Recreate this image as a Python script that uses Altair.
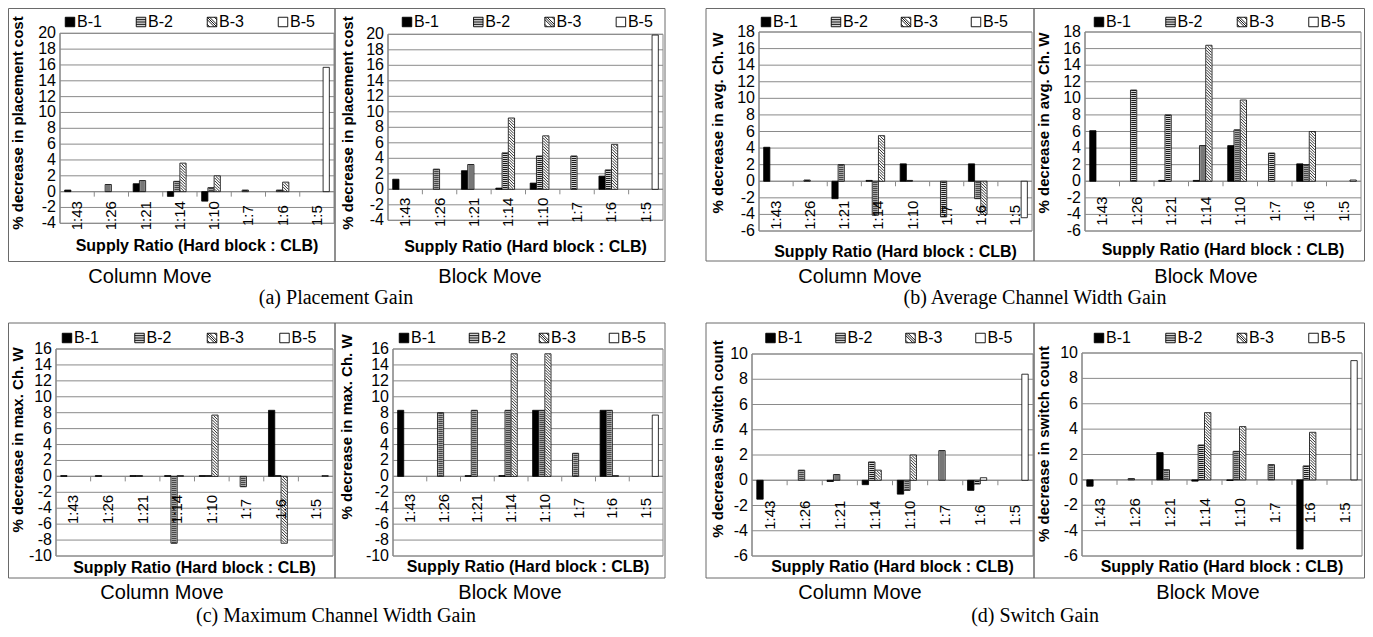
import altair as alt
import pandas as pd

categories = ["1:43", "1:26", "1:21", "1:14", "1:10", "1:7", "1:6", "1:5"]
series = ["B-1", "B-2", "B-3", "B-5"]
N = None

# (a) Placement Gain
a_col_b1 = [0.2, N, 1.0, -0.6, -1.2, N, N, N]
a_col_b2 = [N, 0.9, 1.4, 1.3, 0.5, 0.2, 0.2, N]
a_col_b3 = [N, N, N, 3.6, 2.0, N, 1.2, N]
a_col_b5 = [N, N, N, N, N, N, N, 15.7]
a_blk_b1 = [1.3, N, 2.4, 0.15, 0.8, N, 1.7, N]
a_blk_b2 = [N, 2.6, 3.2, 4.7, 4.3, 4.3, 2.5, N]
a_blk_b3 = [N, N, N, 9.2, 6.9, N, 5.8, N]
a_blk_b5 = [N, N, N, N, N, N, N, 19.9]
# (b) Average Channel Width Gain
b_col_b1 = [4.1, N, -2.1, 0.1, 2.1, N, 2.1, N]
b_col_b2 = [N, 0.15, 2.0, -4.1, 0.1, -4.3, -2.1, N]
b_col_b3 = [N, N, N, 5.5, N, N, -4.0, N]
b_col_b5 = [N, N, N, N, N, N, N, -4.4]
b_blk_b1 = [6.1, N, 0.1, 0.1, 4.3, N, 2.1, N]
b_blk_b2 = [N, 11.0, 8.0, 4.3, 6.2, 3.4, 2.0, N]
b_blk_b3 = [N, N, N, 16.4, 9.8, N, 6.0, N]
b_blk_b5 = [N, N, N, N, N, N, N, 0.15]
# (c) Maximum Channel Width Gain
c_col_b1 = [0.1, 0.1, 0.1, 0.1, 0.1, N, 8.3, N]
c_col_b2 = [N, N, 0.1, -8.4, 0.1, -1.3, 0.1, N]
c_col_b3 = [N, N, N, 0.1, 7.7, N, -8.4, N]
c_col_b5 = [N, N, N, N, N, N, N, 0.1]
c_blk_b1 = [8.3, N, 0.1, 0.1, 8.3, N, 8.3, N]
c_blk_b2 = [N, 8.0, 8.3, 8.3, 8.3, 2.9, 8.3, N]
c_blk_b3 = [N, N, N, 15.4, 15.4, N, 0.1, N]
c_blk_b5 = [N, N, N, N, N, N, N, 7.7]
# (d) Switch Gain
d_col_b1 = [-1.5, N, -0.1, -0.35, -1.1, N, -0.8, N]
d_col_b2 = [N, 0.8, 0.45, 1.45, -0.8, 2.35, -0.3, N]
d_col_b3 = [N, N, N, 0.8, 2.0, N, 0.2, N]
d_col_b5 = [N, N, N, N, N, N, N, 8.4]
d_blk_b1 = [-0.5, N, 2.15, -0.1, -0.05, N, -5.45, N]
d_blk_b2 = [N, 0.1, 0.8, 2.75, 2.25, 1.2, 1.1, N]
d_blk_b3 = [N, N, N, 5.3, 4.2, N, 3.75, N]
d_blk_b5 = [N, N, N, N, N, N, N, 9.4]

ticks_a = [-4, -2, 0, 2, 4, 6, 8, 10, 12, 14, 16, 18, 20]
ticks_b = [-6, -4, -2, 0, 2, 4, 6, 8, 10, 12, 14, 16, 18]
ticks_c = [-10, -8, -6, -4, -2, 0, 2, 4, 6, 8, 10, 12, 14, 16]
ticks_d = [-6, -4, -2, 0, 2, 4, 6, 8, 10]

ytitle_a = "% decrease in placement cost"
ytitle_b = "% decrease in avg. Ch. W"
ytitle_c = "% decrease in max. Ch. W"
ytitle_d_col = "% decrease in  Switch count"
ytitle_d_blk = "% decrease in  switch count"
xtitle = "Supply Ratio (Hard block : CLB)"
captions = ["(a) Placement Gain", "(b) Average Channel Width Gain",
            "(c) Maximum Channel Width Gain", "(d) Switch Gain"]

SANS = "Liberation Sans"
SERIF = "Liberation Serif"
GRID = "#8a8a8a"
FRAME = "#6a6a6a"
FILLS = ["black", "#d4d4d4", "white", "white"]
SQ = "M-1,-1H1V1H-1Z"
SHAPES = [SQ, SQ + " M-1,-0.5H1 M-1,0H1 M-1,0.5H1",
          SQ + " M-1,-1L1,1 M-1,-0.5L0.5,1 M-1,0.5L-0.5,1 M-0.5,-1L1,0.5 M0.5,-1L1,-0.5",
          SQ]

# layout of each panel (pixel geometry of the figure)
panels = [
    dict(vals=[a_col_b1, a_col_b2, a_col_b3, a_col_b5], ticks=ticks_a, ytitle=ytitle_a, sub="Column Move",
         frame=(0.5, 327, 0.5, 253.5), plot=(52, 326, 25.3, 215.3), gap=24, leg=(62, 71, 14),
         yt=(10, 115), xt=238, subpos=(142, 269)),
    dict(vals=[a_blk_b1, a_blk_b2, a_blk_b3, a_blk_b5], ticks=ticks_a, ytitle=ytitle_a, sub="Block Move",
         frame=(327, 657, 0.5, 253.5), plot=(380, 655, 26.3, 212.3), gap=23, leg=(399, 71.3, 14),
         yt=(339.5, 115), xt=239, subpos=(482, 269)),
    dict(vals=[b_col_b1, b_col_b2, b_col_b3, b_col_b5], ticks=ticks_b, ytitle=ytitle_b, sub="Column Move",
         frame=(698, 1026, 0.5, 253), plot=(751, 1024, 24, 223), gap=34, leg=(758, 70, 14),
         yt=(709.5, 115), xt=243.5, subpos=(852, 269)),
    dict(vals=[b_blk_b1, b_blk_b2, b_blk_b3, b_blk_b5], ticks=ticks_b, ytitle=ytitle_b, sub="Block Move",
         frame=(1026, 1356.5, 0.5, 253), plot=(1077, 1353, 24, 223), gap=30, leg=(1091, 71.5, 14),
         yt=(1036, 115), xt=242, subpos=(1198, 269)),
    dict(vals=[c_col_b1, c_col_b2, c_col_b3, c_col_b5], ticks=ticks_c, ytitle=ytitle_c, sub="Column Move",
         frame=(0.5, 327, 315, 570), plot=(48, 325, 341, 548), gap=33, leg=(59, 72.5, 330),
         yt=(9.5, 432), xt=559.5, subpos=(154, 585)),
    dict(vals=[c_blk_b1, c_blk_b2, c_blk_b3, c_blk_b5], ticks=ticks_c, ytitle=ytitle_c, sub="Block Move",
         frame=(327, 657, 315, 570), plot=(385, 655, 341, 548), gap=32, leg=(396, 70, 330),
         yt=(339, 419), xt=559, subpos=(502, 585)),
    dict(vals=[d_col_b1, d_col_b2, d_col_b3, d_col_b5], ticks=ticks_d, ytitle=ytitle_d_col, sub="Column Move",
         frame=(698, 1026, 315, 570), plot=(744, 1025, 346, 548), gap=35, leg=(762.5, 70, 330),
         yt=(709.5, 431), xt=559, subpos=(852, 585)),
    dict(vals=[d_blk_b1, d_blk_b2, d_blk_b3, d_blk_b5], ticks=ticks_d, ytitle=ytitle_d_blk, sub="Block Move",
         frame=(1026, 1356.5, 315, 570), plot=(1074, 1354, 345, 548), gap=33, leg=(1091, 71.5, 330),
         yt=(1036, 436), xt=559, subpos=(1200, 585)),
]
caption_pos = [(328, 290), (1027, 290), (328, 608), (1027, 608)]


def build_panel(p):
    L, R, T, B = p["plot"]
    ticks = p["ticks"]
    ymin, ymax = ticks[0], ticks[-1]
    cat = (R - L) / 8.0
    bw = cat / 5.5
    ppu = (B - T) / (ymax - ymin)
    xs = alt.Scale(domain=[0, 8], range=[L, R], nice=False, zero=False)
    ys = alt.Scale(domain=[ymin, ymax], range=[B, T], nice=False, zero=False)

    def X(f):
        return alt.X(f, type="quantitative", scale=xs, axis=None)

    def Y(f):
        return alt.Y(f, type="quantitative", scale=ys, axis=None)

    bar_rows, hatch_rows = [], []
    for k, s in enumerate(series):
        for i, v in enumerate(p["vals"][k]):
            if v is None:
                continue
            bar_rows.append(dict(series=s, x0=i + (0.75 + k) / 5.5, x1=i + (1.75 + k) / 5.5,
                                 xc=i + (1.25 + k) / 5.5, v=v, z=0.0))
            if s == "B-3":
                # diagonal hatch lines clipped to the bar (pixel space -> data units)
                xl = L + cat * i + bw * (0.75 + k) + 0.6
                xr = L + cat * i + bw * (1.75 + k) - 0.6
                y0 = T + ymax * ppu
                yv = T + (ymax - v) * ppu
                yt, yb = min(y0, yv) + 0.6, max(y0, yv) - 0.6
                if yb - yt < 1.5:
                    continue
                c = yt - xr + 1.0
                while c < yb - xl:
                    xa = max(xl, yt - c)
                    xb = min(xr, yb - c)
                    if xb > xa + 0.2:
                        hatch_rows.append(dict(
                            xa=(xa - L) / cat, xb=(xb - L) / cat,
                            ya=ymax - (xa + c - T) / ppu, yb=ymax - (xb + c - T) / ppu))
                    c += 2.8
    bars_df = pd.DataFrame(bar_rows)
    b2_df = bars_df[bars_df["series"] == "B-2"]
    hatch_df = pd.DataFrame(hatch_rows, columns=["xa", "xb", "ya", "yb"])

    grid = alt.Chart(pd.DataFrame({"t": ticks, "xa": 0, "xb": 8})).mark_rule(
        color=GRID, strokeWidth=1).encode(x=X("xa"), x2="xb", y=Y("t"))
    border = alt.Chart(pd.DataFrame({"xa": [0], "xb": [8], "ya": [ymin], "yb": [ymax]})).mark_rect(
        fillOpacity=0, stroke=GRID, strokeWidth=1).encode(x=X("xa"), x2="xb", y=Y("ya"), y2="yb")
    zero = alt.Chart(pd.DataFrame({"xa": [0], "xb": [8], "y": [0]})).mark_rule(
        color=GRID, strokeWidth=1.2).encode(x=X("xa"), x2="xb", y=Y("y"))
    cticks = alt.Chart(pd.DataFrame({"x": list(range(1, 8)), "ya": 0.0, "yb": -5.0 / ppu})).mark_rule(
        color=GRID, strokeWidth=1).encode(x=X("x"), y=Y("ya"), y2="yb")
    ydom = alt.Chart(pd.DataFrame({"x": [0], "ya": [ymin], "yb": [ymax]})).mark_rule(
        color=GRID, strokeWidth=1.2).encode(x=X("x"), y=Y("ya"), y2="yb")
    bars = alt.Chart(bars_df).mark_rect(stroke="black", strokeWidth=0.8).encode(
        x=X("x0"), x2="x1", y=Y("v"), y2="z",
        fill=alt.Fill("series:N", scale=alt.Scale(domain=series, range=FILLS), legend=None))
    stripes = alt.Chart(b2_df).mark_rule(color="#1a1a1a", strokeWidth=bw - 1.6, strokeDash=[1, 1]).encode(
        x=X("xc"), y=Y("v"), y2="z")
    hatch = alt.Chart(hatch_df).mark_rule(color="black", strokeWidth=0.8).encode(
        x=X("xa"), x2="xb", y=Y("ya"), y2="yb")
    labels = alt.Chart(pd.DataFrame({"x": [i + 0.5 for i in range(8)], "y": 0.0, "lab": categories})).mark_text(
        angle=270, align="center", baseline="middle", dx=-p["gap"], fontSize=15, font=SANS, color="black"
    ).encode(x=X("x"), y=Y("y"), text="lab:N")
    ylabels = alt.Chart(pd.DataFrame({"x": 0, "t": ticks, "lab": [str(t) for t in ticks]})).mark_text(
        align="right", baseline="middle", dx=-4, fontSize=16, font=SANS, color="black"
    ).encode(x=X("x"), y=Y("t"), text="lab:N")
    return alt.layer(grid, border, zero, cticks, bars, stripes, hatch, ydom, labels, ylabels)


panel_layers = [build_panel(p) for p in panels]

# frames, titles, legends (figure layout, pixel positions)
frame_df = pd.DataFrame([dict(xa=p["frame"][0], xb=p["frame"][1], ya=p["frame"][2], yb=p["frame"][3])
                         for p in panels])
frames = alt.Chart(frame_df).mark_rect(fillOpacity=0, stroke=FRAME, strokeWidth=1).encode(
    x=alt.X("xa:Q", scale=None, axis=None), x2="xb:Q",
    y=alt.Y("ya:Q", scale=None, axis=None), y2="yb:Q")


def pix_text(rows, **style):
    return alt.Chart(pd.DataFrame(rows)).mark_text(color="black", **style).encode(
        x=alt.X("px:Q", scale=None, axis=None), y=alt.Y("py:Q", scale=None, axis=None), text="t:N")


ytitles = pix_text([dict(px=p["yt"][0], py=p["yt"][1], t=p["ytitle"]) for p in panels],
                   angle=270, align="center", baseline="middle", fontSize=15, fontWeight="bold", font=SANS)
xtitles = pix_text([dict(px=(p["plot"][0] + p["plot"][1]) / 2, py=p["xt"], t=xtitle) for p in panels],
                   align="center", baseline="middle", fontSize=16, fontWeight="bold", font=SANS)
subtitles = pix_text([dict(px=p["subpos"][0], py=p["subpos"][1], t=p["sub"]) for p in panels],
                     align="center", baseline="middle", fontSize=20, font=SANS)
capt = pix_text([dict(px=c[0], py=c[1], t=t) for c, t in zip(caption_pos, captions)],
                align="center", baseline="middle", fontSize=20, font=SERIF)

leg_sym_rows, leg_txt_rows = [], []
for p in panels:
    x0, step, ly = p["leg"]
    for k, s in enumerate(series):
        leg_sym_rows.append(dict(px=x0 + k * step, py=ly, fill=FILLS[k], shape=SHAPES[k]))
        leg_txt_rows.append(dict(px=x0 + k * step + 7, py=ly, t=s))
leg_sym = alt.Chart(pd.DataFrame(leg_sym_rows)).mark_point(
    filled=True, opacity=1, stroke="black", strokeWidth=0.9, size=90).encode(
    x=alt.X("px:Q", scale=None, axis=None), y=alt.Y("py:Q", scale=None, axis=None),
    fill=alt.Fill("fill:N", scale=None), shape=alt.Shape("shape:N", scale=None))
leg_txt = pix_text(leg_txt_rows, align="left", baseline="middle", fontSize=16, font=SANS)

chart = alt.layer(*panel_layers, frames, ytitles, xtitles, subtitles, capt, leg_sym, leg_txt).resolve_scale(
    x="independent", y="independent"
).properties(
    width=1357, height=621, padding=0, autosize=alt.AutoSizeParams(type="none")
).configure_view(strokeWidth=0)

chart.save("out.html", embed_options={"renderer": "svg", "actions": False})
